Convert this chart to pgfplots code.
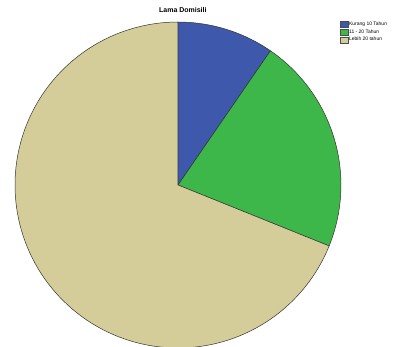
\documentclass[border=0pt]{standalone}
\usepackage{pgfplots}
\pgfplotsset{compat=1.18}
\usepackage{fontspec}
\setmainfont{Liberation Sans}
\definecolor{sblue}{RGB}{62,88,172}
\definecolor{sgreen}{RGB}{61,182,74}
\definecolor{sbeige}{RGB}{213,205,153}
% shares (percent)
\def\va{9.6}
\def\vb{21.5}
\def\vc{68.9}
\begin{document}
\begin{tikzpicture}
\pgfmathsetmacro{\aA}{90}
\pgfmathsetmacro{\aB}{90-3.6*\va}
\pgfmathsetmacro{\aC}{\aB-3.6*\vb}
\pgfmathsetmacro{\aD}{\aC-3.6*\vc}
\begin{axis}[
  name=ax,
  scale only axis, width=406bp, height=347bp,
  xmin=-1.092, xmax=1.399, ymin=-0.994, ymax=1.135,
  hide axis, clip=true,
  legend style={at={(rel axis cs:0.838,0.94)}, anchor=north west, draw=none, fill=none,
    font=\fontsize{5}{6}\selectfont, row sep=0.5pt, inner sep=0pt,
    nodes={inner sep=1pt}},
  legend cell align=left,
  legend image code/.code={\draw[#1, draw=black!70, line width=0.2pt] (0pt,-3pt) rectangle (7.5pt,3pt);},
]
\addplot[fill=sblue, draw=black!80, line width=0.5pt, domain=\aA:\aB, samples=30, variable=\t]
  ({cos(\t)},{sin(\t)}) -- (axis cs:0,0) -- cycle;
\addlegendentry{Kurang 10 Tahun}
\addplot[fill=sgreen, draw=black!80, line width=0.5pt, domain=\aB:\aC, samples=40, variable=\t]
  ({cos(\t)},{sin(\t)}) -- (axis cs:0,0) -- cycle;
\addlegendentry{11 - 20 Tahun}
\addplot[fill=sbeige, draw=black!80, line width=0.5pt, domain=\aC:\aD, samples=120, variable=\t]
  ({cos(\t)},{sin(\t)}) -- (axis cs:0,0) -- cycle;
\addlegendentry{Lebih 20 tahun}
\node[font=\bfseries\fontsize{7}{8}\selectfont] at (axis cs:0.03,1.075) {Lama Domisili};
\end{axis}
\pgfresetboundingbox
\path[use as bounding box] (ax.south west) rectangle (ax.north east);
\end{tikzpicture}
\end{document}
